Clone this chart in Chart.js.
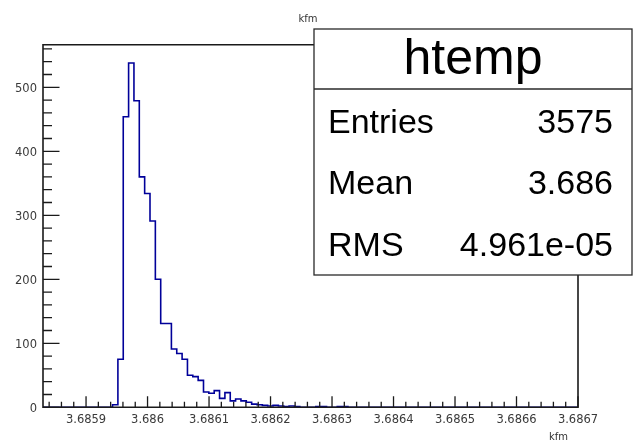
<!DOCTYPE html>
<html>
<head>
<meta charset="utf-8">
<script src="https://cdn.jsdelivr.net/npm/chart.js@4.4.1/dist/chart.umd.min.js"></script>
<style>
  html, body { margin: 0; padding: 0; background: #ffffff; }
  #c { display: block; }
</style>
</head>
<body>
<canvas id="c" width="641" height="445"></canvas>
<script>
// ---- histogram definition (ROOT "htemp", 100 bins) ----
const histName = "htemp";
const axisTitle = "kfm";
const xMin = 3.68583;
const xMax = 3.6867;
const nBins = 100;
const yMax = 566.6;

// bin contents (bins 0..99)
const counts = [
  0, 0, 0, 0, 0, 0, 0, 0, 0, 0,
  0, 0, 0, 4, 75, 454, 538, 479, 360, 334,
  291, 200, 131, 131, 91, 84, 75, 50, 48, 42,
  24, 22, 26, 14, 23, 10, 13, 10, 8, 5,
  4, 3, 2, 3, 2, 1, 2, 1, 0, 0,
  0, 1, 1, 0, 0, 1, 1, 0, 0, 0,
  0, 0, 0, 0, 0, 0, 0, 0, 0, 0,
  0, 0, 0, 0, 0, 0, 0, 0, 0, 0,
  0, 0, 0, 0, 0, 0, 0, 0, 0, 0,
  0, 0, 0, 0, 0, 0, 0, 0, 0, 0
];

// axis ticks
const xTicks = [3.6859, 3.686, 3.6861, 3.6862, 3.6863, 3.6864, 3.6865, 3.6866, 3.6867];
const xTickLabels = ["3.6859", "3.686", "3.6861", "3.6862", "3.6863", "3.6864", "3.6865", "3.6866", "3.6867"];
const xMinorStep = 0.00002;
const yTicks = [0, 100, 200, 300, 400, 500];
const yTickLabels = ["0", "100", "200", "300", "400", "500"];
const yMinorStep = 20;

// statistics box
const statLabels = ["Entries", "Mean", "RMS"];
const statValues = ["3575", "3.686", "4.961e-05"];

// ---- build step outline from bin edges ----
const binW = (xMax - xMin) / nBins;
const points = counts.map((v, i) => ({ x: xMin + i * binW, y: v }));
points.push({ x: xMax, y: counts[counts.length - 1] });

const framePlugin = {
  id: 'rootFrame',
  afterDatasetsDraw(chart) {
    const ctx = chart.ctx;
    const a = chart.chartArea;
    const xs = chart.scales.x, ys = chart.scales.y;
    ctx.save();
    // frame
    ctx.strokeStyle = '#1a1a1a';
    ctx.lineWidth = 1.6;
    ctx.beginPath();
    ctx.rect(a.left, a.top, a.right - a.left, a.bottom - a.top);
    ctx.stroke();

    // x ticks (inside, upward)
    ctx.lineWidth = 1.3;
    ctx.beginPath();
    const nMinor = Math.round((xMax - xMin) / xMinorStep) + 2;
    const firstMinor = Math.ceil(xMin / xMinorStep - 1e-6) * xMinorStep;
    for (let k = 0; k < nMinor; k++) {
      const v = firstMinor + k * xMinorStep;
      if (v > xMax + 1e-9) break;
      const px = xs.getPixelForValue(v);
      const isMajor = xTicks.some(t => Math.abs(t - v) < 1e-9);
      const len = isMajor ? 11 : 5.5;
      ctx.moveTo(px, a.bottom);
      ctx.lineTo(px, a.bottom - len);
    }
    // y ticks (inside, rightward)
    for (let v = 0; v <= yMax; v += yMinorStep) {
      const py = ys.getPixelForValue(v);
      const isMajor = yTicks.includes(v);
      const len = isMajor ? 16.5 : 9;
      ctx.moveTo(a.left, py);
      ctx.lineTo(a.left + len, py);
    }
    ctx.stroke();

    // tick labels
    ctx.fillStyle = '#3a3a3a';
    ctx.font = '11.5px "DejaVu Sans"';
    ctx.textAlign = 'center';
    ctx.textBaseline = 'alphabetic';
    xTicks.forEach((t, i) => {
      ctx.fillText(xTickLabels[i], xs.getPixelForValue(t), a.bottom + 15.5);
    });
    ctx.textAlign = 'right';
    yTicks.forEach((t, i) => {
      ctx.fillText(yTickLabels[i], a.left - 6, ys.getPixelForValue(t) + 4.2);
    });

    // axis titles
    ctx.font = '10px "DejaVu Sans"';
    ctx.fillStyle = '#333333';
    ctx.textAlign = 'right';
    ctx.fillText(axisTitle, a.right - 10, a.bottom + 32.5);
    ctx.textAlign = 'center';
    ctx.fillText(axisTitle, 308, 22);

    // statistics box
    const bx = 314, by = 29, bw = 632 - 314, bh = 275 - 29, split = 89;
    ctx.fillStyle = '#ffffff';
    ctx.fillRect(bx, by, bw, bh);
    ctx.strokeStyle = '#2a2a2a';
    ctx.lineWidth = 1.3;
    ctx.strokeRect(bx, by, bw, bh);
    ctx.beginPath();
    ctx.moveTo(bx, split);
    ctx.lineTo(bx + bw, split);
    ctx.stroke();

    ctx.fillStyle = '#000000';
    ctx.font = '50px "Liberation Sans"';
    ctx.textAlign = 'center';
    ctx.fillText(histName, bx + bw / 2, 74);

    ctx.font = '34px "Liberation Sans"';
    const rowBase = [132.5, 194, 255.5];
    statLabels.forEach((lab, i) => {
      ctx.textAlign = 'left';
      ctx.fillText(lab, 328, rowBase[i]);
      ctx.textAlign = 'right';
      ctx.fillText(statValues[i], 613, rowBase[i]);
    });
    ctx.restore();
  }
};

new Chart(document.getElementById('c'), {
  type: 'line',
  data: {
    datasets: [{
      data: points,
      stepped: 'before',
      borderColor: '#000099',
      borderWidth: 1.6,
      pointRadius: 0,
      fill: false,
      tension: 0
    }]
  },
  options: {
    responsive: false,
    animation: false,
    devicePixelRatio: 1,
    layout: { padding: { left: 43, top: 44.7, right: 63, bottom: 37.7 } },
    plugins: { legend: { display: false }, tooltip: { enabled: false } },
    scales: {
      x: {
        type: 'linear', min: xMin, max: xMax,
        display: true,
        grid: { display: false }, border: { display: false },
        ticks: { display: false },
        afterFit(s) { s.height = 0; }
      },
      y: {
        type: 'linear', min: 0, max: yMax,
        display: true,
        grid: { display: false }, border: { display: false },
        ticks: { display: false },
        afterFit(s) { s.width = 0; }
      }
    }
  },
  plugins: [framePlugin]
});
</script>
</body>
</html>
